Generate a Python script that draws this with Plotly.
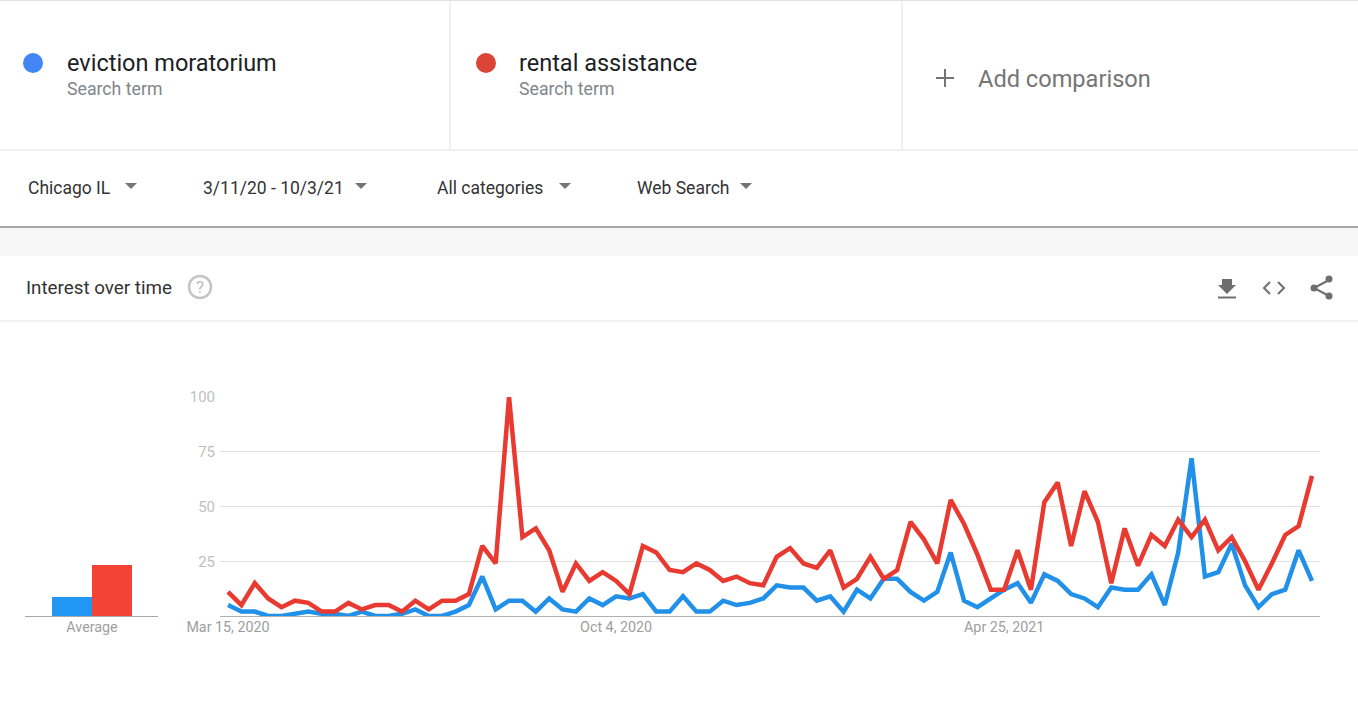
import pandas as pd
import plotly.graph_objects as go

W, H = 1358, 715
FONT = "Roboto, Arial, sans-serif"

term_names = ["eviction moratorium", "rental assistance"]
start_date = "2020-03-15"
rental = [11,5,15,8,4,7,6,2,2,6,3,5,5,2,7,3,7,7,10,32,24,100,36,40,30,11,24,
          16,20,16,10,32,29,21,20,24,21,16,18,15,14,27,31,24,22,30,13,17,27,17,21,43,35,24,
          53,42,28,12,12,30,12,52,61,32,57,43,15,40,23,37,32,44,36,44,30,36,25,12,24,37,41,64]
eviction = [5,2,2,0,0,1,2,1,1,0,2,0,0,1,3,0,0,2,5,18,3,7,7,2,8,3,2,
            8,5,9,8,10,2,2,9,2,2,7,5,6,8,14,13,13,7,9,2,12,8,17,17,11,7,11,
            29,7,4,8,12,15,6,19,16,10,8,4,13,12,12,19,5,29,72,18,20,33,14,4,10,12,30,16]
averages = [8.5, 23.3]
date_ticks = ["2020-03-15", "2020-10-04", "2021-04-25"]
date_labels = ["Mar 15, 2020", "Oct 4, 2020", "Apr 25, 2021"]
y_ticks = [25, 50, 75, 100]

dates = pd.date_range(start_date, periods=len(rental), freq="7D")

BLUE, RED = "#2190e8", "#e83a30"
fig = go.Figure()
fig.add_trace(go.Scatter(x=dates, y=eviction, mode="lines", name=term_names[0],
                         line=dict(color=BLUE, width=4.5, shape="linear"), xaxis="x", yaxis="y"))
fig.add_trace(go.Scatter(x=dates, y=rental, mode="lines", name=term_names[1],
                         line=dict(color=RED, width=4.5, shape="linear"), xaxis="x", yaxis="y"))
fig.add_trace(go.Bar(x=[0, 1], y=averages, width=1, marker=dict(color=["#2196f3", "#f44336"], line_width=0),
                     xaxis="x2", yaxis="y2", showlegend=False))


def px(x): return x / W
def py(y): return 1 - y / H


def P(*pts, close=True):
    s = "M" + " L".join(f"{px(x):.5f},{py(y):.5f}" for x, y in pts)
    return s + (" Z" if close else "")


shapes = []


def rect(x0, y0, x1, y1, color):
    shapes.append(dict(type="rect", xref="paper", yref="paper", x0=px(x0), x1=px(x1), y0=py(y0), y1=py(y1),
                       fillcolor=color, line_width=0, layer="below"))


def hline(y, x0, x1, color, width=1):
    shapes.append(dict(type="line", xref="paper", yref="paper", x0=px(x0), x1=px(x1), y0=py(y), y1=py(y),
                       line=dict(color=color, width=width)))


def vline(x, y0, y1, color, width=1):
    shapes.append(dict(type="line", xref="paper", yref="paper", x0=px(x), x1=px(x), y0=py(y0), y1=py(y1),
                       line=dict(color=color, width=width)))


def circle(cx, cy, r, fill=None, line=None, lw=0):
    shapes.append(dict(type="circle", xref="paper", yref="paper", x0=px(cx - r), x1=px(cx + r), y0=py(cy - r), y1=py(cy + r),
                       fillcolor=fill or "rgba(0,0,0,0)", line=dict(color=line or "rgba(0,0,0,0)", width=lw)))


def poly(pts, fill=None, line=None, lw=0, close=True):
    shapes.append(dict(type="path", xref="paper", yref="paper", path=P(*pts, close=close),
                       fillcolor=fill or "rgba(0,0,0,0)", line=dict(color=line or "rgba(0,0,0,0)", width=lw)))


# page chrome
rect(0, 228, W, 256, "#f6f6f6")
hline(0.5, 0, W, "#e0e0e0")
hline(150, 0, W, "#e0e0e0")
vline(450, 0, 150, "#e0e0e0")
vline(902, 0, 150, "#e0e0e0")
hline(227, 0, W, "#a8a8a8", 2)
hline(321, 0, W, "#e0e0e0")
circle(33, 63, 10, fill="#4285f4")
circle(486, 63, 10, fill="#db4437")
hline(78, 936, 954, "#757575", 2)
vline(945, 69, 87, "#757575", 2)
for cx, cy in [(131, 186), (361, 186), (565, 186), (746, 186)]:
    poly([(cx - 6, cy - 3), (cx + 6, cy - 3), (cx, cy + 3)], fill="#757575")
circle(200, 287, 11, line="#c4c4c4", lw=2.5)
# download icon
poly([(1222, 279), (1232, 279), (1232, 285), (1236, 285), (1227, 294), (1218, 285), (1222, 285)], fill="#6e6e6e")
hline(297.5, 1218, 1236, "#6e6e6e", 2)
# embed icon
poly([(1270, 282), (1264, 288), (1270, 294)], line="#6e6e6e", lw=2, close=False)
poly([(1278, 282), (1284, 288), (1278, 294)], line="#6e6e6e", lw=2, close=False)
# share icon
poly([(1329, 280), (1314, 288), (1329, 296)], line="#6e6e6e", lw=2, close=False)
circle(1329, 279, 3.5, fill="#6e6e6e")
circle(1314, 288, 3.5, fill="#6e6e6e")
circle(1329, 296, 3.5, fill="#6e6e6e")


def text(x, y, s, size, color, anchor="left", **kw):
    return dict(xref="paper", yref="paper", x=px(x), y=py(y), text=s, showarrow=False,
                xanchor=anchor, yanchor="middle", font=dict(family=FONT, size=size, color=color), **kw)


annotations = [
    text(65, 63, term_names[0], 23.5, "#202124"),
    text(64.5, 89, "Search term", 17.7, "#80868b"),
    text(517, 63, term_names[1], 23.5, "#202124"),
    text(517, 89, "Search term", 17.7, "#80868b"),
    text(976, 79, "Add comparison", 23.6, "#757575"),
    text(26, 188, "Chicago IL", 17.5, "#333333"),
    text(201, 188, "3/11/20 - 10/3/21", 17.5, "#333333"),
    text(435, 188, "All categories", 17.5, "#333333"),
    text(635, 188, "Web Search", 17.5, "#333333"),
    text(23.5, 288, "Interest over time", 18.8, "#333333"),
    text(200, 287, "?", 17, "#bdbdbd", anchor="center"),
]

# x range from pixels: Mar 15 2020 sits 8 px inside the plot edge, 1.912 px per day
pad = pd.Timedelta(days=8 / 1.912)
fig.update_layout(
    width=W, height=H, autosize=False, margin=dict(l=0, r=0, t=0, b=0, pad=0),
    paper_bgcolor="white", plot_bgcolor="rgba(0,0,0,0)", showlegend=False,
    shapes=shapes, annotations=annotations, font=dict(family=FONT),
    xaxis=dict(type="date", domain=[px(220), px(1320)], range=[dates[0] - pad, dates[-1] + pad],
               tickmode="array", tickvals=date_ticks, ticktext=date_labels, ticks="", automargin=False,
               tickfont=dict(family=FONT, size=14.3, color="#9e9e9e"), showgrid=False, zeroline=False,
               ticklabelstandoff=-2,
               showline=True, linecolor="#b0b0b0", linewidth=1, anchor="y"),
    yaxis=dict(domain=[py(616), py(397)], range=[0, 100], tickmode="array", tickvals=y_ticks, automargin=False,
               tickfont=dict(family=FONT, size=15, color="#c0c0c0"), showgrid=True, gridcolor="#e0e0e0",
               ticklabelstandoff=4,
               gridwidth=1, zeroline=False, showline=False, ticks="", anchor="x"),
    xaxis2=dict(domain=[px(25), px(158)], range=[-1.175, 2.15], tickmode="array", tickvals=[0.5], automargin=False,
                ticktext=["Average"], ticks="", tickfont=dict(family=FONT, size=14.3, color="#9e9e9e"),
                ticklabelstandoff=-2,
                showgrid=False, zeroline=False, showline=True, linecolor="#a8a8a8", linewidth=1, anchor="y2"),
    yaxis2=dict(domain=[py(616), py(397)], range=[0, 100], visible=False, anchor="x2", automargin=False),
    bargap=0,
)
fig.write_html("out.html", config=dict(displayModeBar=False),
               post_script="document.body.style.margin='0';")
